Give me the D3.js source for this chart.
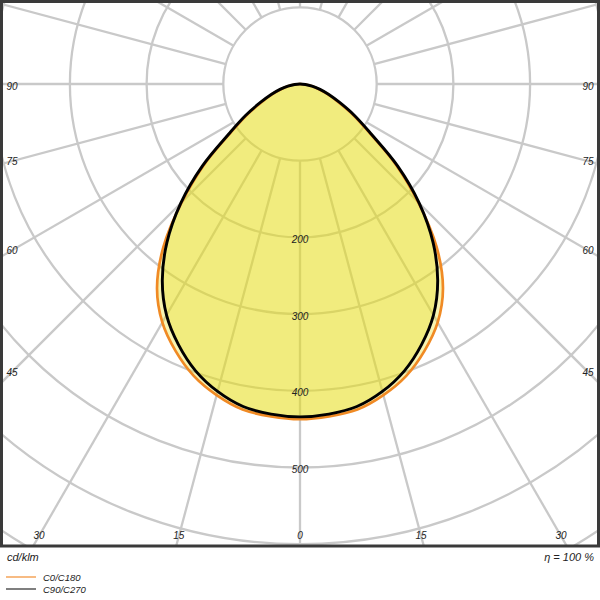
<!DOCTYPE html>
<html>
<head>
<meta charset="utf-8">
<script src="https://cdn.jsdelivr.net/npm/d3@7"></script>
<style>
  html, body { margin: 0; padding: 0; background: #fff; }
  svg { display: block; }
  text { font-family: "Liberation Sans", Arial, sans-serif; font-style: italic; fill: #222; }
</style>
</head>
<body>
<svg id="chart" width="600" height="600"></svg>
<script>
// ---- data ----
const gammaAngles = [0, 5, 10, 15, 20, 25, 30, 35, 40, 45, 50, 55, 60, 65, 70, 75, 80, 85, 90];
const c0c180 =      [437, 435, 431, 420, 405, 384, 359, 325, 277, 218, 163, 110, 79, 54, 38, 25, 15, 7, 0];
const c90c270 =     [434, 432, 427, 415, 398, 375, 348, 313, 270, 220, 166, 113, 82, 57, 40, 27, 16, 7, 0];
const ringValues = [100, 200, 300, 400, 500, 600, 700];
const ringLabels = ["200", "300", "400", "500"];
const sideLabels = ["90", "75", "60", "45"];
const bottomLabels = ["30", "15", "0", "15", "30"];
const seriesNames = ["C0/C180", "C90/C270"];
const unitLabel = "cd/klm";
const effLabel = "η = 100 %";

// ---- layout ----
const W = 600, frameH = 546;
const cx = 300, cy = 84;
const svg = d3.select("#chart");
const r = d3.scaleLinear().domain([0, 100]).range([0, 76.7]);

const defs = svg.append("defs");
defs.append("clipPath").attr("id", "plotClip")
  .append("rect").attr("x", 0).attr("y", 0).attr("width", W).attr("height", frameH);

const plot = svg.append("g").attr("clip-path", "url(#plotClip)");
const g = plot.append("g").attr("transform", `translate(${cx},${cy})`);

const gridColor = "#c9c9c9";
const radials = d3.range(0, 360, 15);
g.selectAll("line.radial").data(radials).join("line")
  .attr("class", "radial")
  .attr("x1", d => r(100) * Math.sin(d * Math.PI / 180))
  .attr("y1", d => r(100) * Math.cos(d * Math.PI / 180))
  .attr("x2", d => 900 * Math.sin(d * Math.PI / 180))
  .attr("y2", d => 900 * Math.cos(d * Math.PI / 180))
  .attr("stroke", gridColor).attr("stroke-width", 2.3);

g.selectAll("circle.ring").data(ringValues).join("circle")
  .attr("class", "ring")
  .attr("r", d => r(d))
  .attr("fill", "none")
  .attr("stroke", gridColor).attr("stroke-width", 2.3);

// curves (symmetric: -90..+90, closed through the centre)
function pts(vals) {
  const p = [];
  for (let i = gammaAngles.length - 1; i >= 0; i--) p.push([-gammaAngles[i], vals[i]]);
  for (let i = 1; i < gammaAngles.length - 1; i++) p.push([gammaAngles[i], vals[i]]);
  return p;
}
const radial = d3.lineRadial()
  .angle(d => Math.PI - d[0] * Math.PI / 180)
  .radius(d => r(d[1]))
  .curve(d3.curveCatmullRomClosed.alpha(0.5));

const fillColor = "rgb(232,222,20)";
[c0c180, c90c270].forEach(vals => {
  g.append("path").attr("d", radial(pts(vals)))
    .attr("fill", fillColor).attr("fill-opacity", 0.33).attr("stroke", "none");
});

g.selectAll("text.ringlab").data(ringLabels).join("text")
  .attr("class", "ringlab")
  .attr("x", 0)
  .attr("y", d => r(+d) + 3)
  .attr("text-anchor", "middle")
  .attr("dominant-baseline", "middle")
  .attr("font-size", 10)
  .text(d => d);

g.append("path").attr("d", radial(pts(c0c180)))
  .attr("fill", "none").attr("stroke", "#f08a24").attr("stroke-width", 2.7);
g.append("path").attr("d", radial(pts(c90c270)))
  .attr("fill", "none").attr("stroke", "#000").attr("stroke-width", 2.9);

// angle labels on sides
sideLabels.forEach(s => {
  const a = +s * Math.PI / 180;
  const dx = 288;
  const yy = cy + dx / Math.tan(a) + (s === "90" ? 3 : 1);
  plot.append("text").attr("x", cx - dx).attr("y", yy)
    .attr("text-anchor", "middle").attr("dominant-baseline", "middle")
    .attr("font-size", 10).text(s);
  plot.append("text").attr("x", cx + dx).attr("y", yy)
    .attr("text-anchor", "middle").attr("dominant-baseline", "middle")
    .attr("font-size", 10).text(s);
});
// bottom labels
const bottomAngles = [-30, -15, 0, 15, 30];
bottomLabels.forEach((s, i) => {
  const a = bottomAngles[i] * Math.PI / 180;
  const yy = 536;
  plot.append("text").attr("x", cx + (yy - cy) * Math.tan(a)).attr("y", yy)
    .attr("text-anchor", "middle").attr("dominant-baseline", "middle")
    .attr("font-size", 10).text(s);
});

// frame
svg.append("rect").attr("x", 1.5).attr("y", 1.5).attr("width", W - 3).attr("height", frameH - 1.5)
  .attr("fill", "none").attr("stroke", "#3a3a3a").attr("stroke-width", 3);

// footer
svg.append("text").attr("x", 7).attr("y", 558).attr("dominant-baseline", "middle")
  .attr("font-size", 11).text(unitLabel);
svg.append("text").attr("x", 594).attr("y", 558).attr("dominant-baseline", "middle")
  .attr("text-anchor", "end").attr("font-size", 11).text(effLabel);

const legendColors = ["#f5a45a", "#555"];
seriesNames.forEach((s, i) => {
  const y = 577 + i * 12;
  svg.append("line").attr("x1", 6).attr("x2", 36).attr("y1", y).attr("y2", y)
    .attr("stroke", legendColors[i]).attr("stroke-width", 1.5);
  svg.append("text").attr("x", 43).attr("y", y + 1).attr("dominant-baseline", "middle")
    .attr("font-size", 9.5).text(s);
});
</script>
</body>
</html>
